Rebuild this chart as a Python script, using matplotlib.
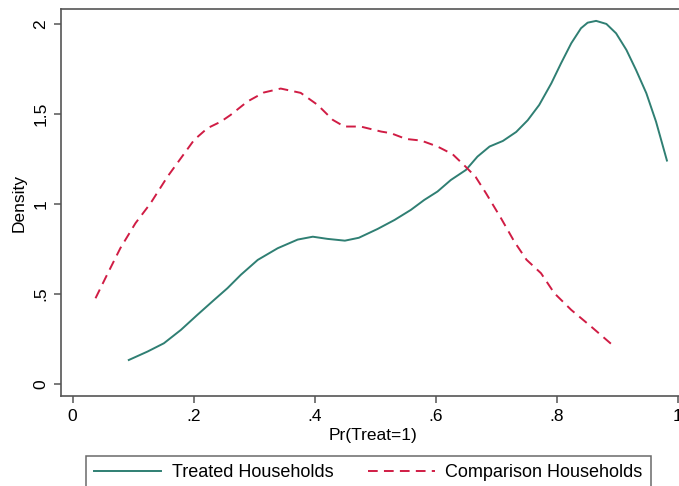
import numpy as np
import matplotlib
matplotlib.use("Agg")
import matplotlib.pyplot as plt

plt.rcParams['font.family'] = ['Liberation Sans', 'DejaVu Sans']

# Kernel density of propensity scores
treated_x = [0.093, 0.124, 0.151, 0.179, 0.206, 0.234, 0.256, 0.278, 0.306, 0.339,
             0.372, 0.397, 0.421, 0.450, 0.473, 0.504, 0.532, 0.559, 0.581, 0.603,
             0.625, 0.650, 0.669, 0.689, 0.711, 0.733, 0.752, 0.771, 0.791, 0.807,
             0.824, 0.840, 0.851, 0.865, 0.882, 0.898, 0.915, 0.931, 0.948, 0.964, 0.982]
treated_y = [0.133, 0.180, 0.226, 0.300, 0.383, 0.467, 0.532, 0.606, 0.689, 0.754,
             0.802, 0.818, 0.806, 0.796, 0.812, 0.861, 0.911, 0.967, 1.022, 1.069,
             1.133, 1.189, 1.263, 1.319, 1.350, 1.400, 1.465, 1.550, 1.670, 1.781,
             1.893, 1.976, 2.007, 2.017, 2.000, 1.948, 1.856, 1.744, 1.615, 1.457, 1.241]

comparison_x = [0.038, 0.057, 0.079, 0.104, 0.129, 0.157, 0.179, 0.201, 0.223, 0.245,
                0.261, 0.289, 0.316, 0.344, 0.377, 0.405, 0.430, 0.449, 0.476, 0.510,
                0.526, 0.551, 0.576, 0.603, 0.628, 0.650, 0.666, 0.683, 0.708, 0.730,
                0.750, 0.774, 0.796, 0.824, 0.857, 0.890]
comparison_y = [0.476, 0.606, 0.754, 0.893, 1.004, 1.152, 1.254, 1.356, 1.421, 1.457,
                1.494, 1.569, 1.619, 1.641, 1.617, 1.550, 1.467, 1.430, 1.430, 1.402,
                1.393, 1.361, 1.352, 1.319, 1.276, 1.205, 1.150, 1.060, 0.920, 0.790,
                0.690, 0.615, 0.504, 0.411, 0.318, 0.222]

x_ticks = [0, 0.2, 0.4, 0.6, 0.8, 1.0]
x_ticklabels = ['0', '.2', '.4', '.6', '.8', '1']
y_ticks = [0, 0.5, 1.0, 1.5, 2.0]
y_ticklabels = ['0', '.5', '1', '1.5', '2']

W, H = 679, 486
fig = plt.figure(figsize=(W / 100, H / 100), dpi=100)
ax = fig.add_axes([61 / W, (H - 396) / H, (686 - 61) / W, (396 - 9) / H])

ax.plot(treated_x, treated_y, color='#2f7f73', linewidth=1.4,
        solid_joinstyle='round', label='Treated Households')
ax.plot(comparison_x, comparison_y, color='#d01c44', linewidth=1.4,
        linestyle=(0, (5, 3.2)), dash_joinstyle='round', label='Comparison Households')

ax.set_xlim(-0.019, 1.0135)
ax.set_ylim(-0.067, 2.083)

ax.set_xticks(x_ticks)
ax.set_xticklabels(x_ticklabels)
ax.set_yticks(y_ticks)
ax.set_yticklabels(y_ticklabels, rotation=90, va='center')

for s in ax.spines.values():
    s.set_color('#555555')
    s.set_linewidth(1.2)
ax.tick_params(direction='out', length=5, width=1.1, color='#555555',
               labelsize=12.5, labelcolor='black', pad=4)

ax.set_xlabel('Pr(Treat=1)', fontsize=12.5, labelpad=3)
ax.set_ylabel('Density', fontsize=12.5, labelpad=5)

leg = ax.legend(loc='upper left', bbox_to_anchor=(86 / W, 1 - 456 / H),
                bbox_transform=fig.transFigure, ncol=2, fontsize=13,
                frameon=True, fancybox=False, edgecolor='#444444',
                handlelength=3.7, handletextpad=0.6, columnspacing=1.9,
                borderpad=0.45, borderaxespad=0)
leg.get_frame().set_linewidth(1.1)

fig.savefig('out.png', dpi=100)
